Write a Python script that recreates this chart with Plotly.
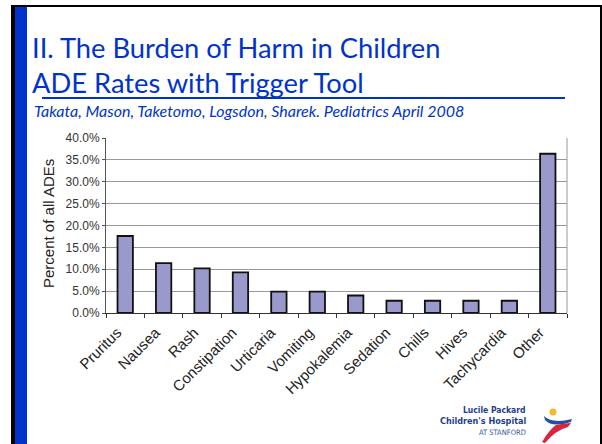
import plotly.graph_objects as go

# ---------------- data ----------------
categories = ["Pruritus", "Nausea", "Rash", "Constipation", "Urticaria", "Vomiting",
              "Hypokalemia", "Sedation", "Chills", "Hives", "Tachycardia", "Other"]
values = [17.6, 11.4, 10.2, 9.3, 4.9, 4.9, 4.0, 2.8, 2.8, 2.8, 2.8, 36.4]
y_tick_vals = [0, 5, 10, 15, 20, 25, 30, 35, 40]
y_tick_labels = ["0.0%", "5.0%", "10.0%", "15.0%", "20.0%", "25.0%", "30.0%", "35.0%", "40.0%"]

title_line1 = "II. The Burden of Harm in Children"
title_line2 = "ADE Rates with Trigger Tool"
citation = "Takata, Mason, Taketomo, Logsdon, Sharek. Pediatrics April 2008"
y_title = "Percent of all ADEs"

# ---------------- layout helpers ----------------
W, H = 602, 444
def fx(x):
    return x / W
def fy(y):
    return 1 - y / H
def path(pts_cmds):
    out = []
    for item in pts_cmds:
        if isinstance(item, str):
            out.append(item)
        else:
            out.append(f"{fx(item[0]):.5f},{fy(item[1]):.5f}")
    return " ".join(out)

BLUE = "#0033CC"
ARIAL = "Arial, 'Liberation Sans', sans-serif"
NARROW = "'Liberation Sans Narrow', 'DejaVu Sans Condensed', Arial, sans-serif"

fig = go.Figure()
fig.add_trace(go.Bar(
    x=categories, y=values, width=0.4,
    marker=dict(color="#9999CC", line=dict(color="#111111", width=1.8)),
    hoverinfo="skip",
))

shapes = []
# slide frame
shapes.append(dict(type="rect", xref="paper", yref="paper", x0=fx(11), x1=fx(15), y0=fy(444), y1=fy(5),
                   fillcolor="black", line=dict(width=0)))
shapes.append(dict(type="rect", xref="paper", yref="paper", x0=fx(11), x1=fx(602), y0=fy(7), y1=fy(5),
                   fillcolor="black", line=dict(width=0)))
shapes.append(dict(type="rect", xref="paper", yref="paper", x0=fx(600), x1=fx(602), y0=fy(444), y1=fy(5),
                   fillcolor="black", line=dict(width=0)))
shapes.append(dict(type="rect", xref="paper", yref="paper", x0=fx(15), x1=fx(27), y0=fy(444), y1=fy(7),
                   fillcolor=BLUE, line=dict(width=0)))
# title underline
shapes.append(dict(type="line", xref="paper", yref="paper", x0=fx(42), x1=fx(565), y0=fy(98), y1=fy(98),
                   line=dict(color=BLUE, width=2)))
# plot area right border
shapes.append(dict(type="line", xref="paper", yref="paper", x0=fx(567), x1=fx(567), y0=fy(313), y1=fy(138),
                   line=dict(color="#999999", width=1)))
# logo icon
shapes.append(dict(type="circle", xref="paper", yref="paper", x0=fx(549.5), x1=fx(556.5), y0=fy(415.5), y1=fy(408.5),
                   fillcolor="#F5B82E", line=dict(width=0)))
shapes.append(dict(type="path", xref="paper", yref="paper",
                   path=path(["M", (544, 416), "Q", (552, 424), (572, 419), "L", (571, 422),
                              "Q", (552, 428), (545, 420), "Z"]),
                   fillcolor="#1F4FA8", line=dict(width=0)))
shapes.append(dict(type="path", xref="paper", yref="paper",
                   path=path(["M", (556, 425), "Q", (565, 423), (571, 423), "L", (568, 427),
                              "Q", (556, 430), (545, 443), "L", (542, 442), "Q", (549, 430), (556, 425), "Z"]),
                   fillcolor="#D7263D", line=dict(width=0)))

annotations = []
title_font = dict(family="Lato, 'Open Sans', sans-serif", size=27.3, color=BLUE)
annotations.append(dict(text=title_line1, xref="paper", yref="paper", x=fx(30), y=fy(47),
                        xanchor="left", yanchor="middle", showarrow=False, font=title_font))
annotations.append(dict(text=title_line2, xref="paper", yref="paper", x=fx(30), y=fy(83),
                        xanchor="left", yanchor="middle", showarrow=False, font=title_font))
annotations.append(dict(text="<i>" + citation + "</i>", xref="paper", yref="paper", x=fx(32), y=fy(110),
                        xanchor="left", yanchor="middle", showarrow=False,
                        font=dict(family="Lato, 'Open Sans', sans-serif", size=16, color=BLUE)))
annotations.append(dict(text=y_title, xref="paper", yref="paper", x=fx(49), y=fy(224), textangle=-90,
                        xanchor="center", yanchor="middle", showarrow=False,
                        font=dict(family=ARIAL, size=15, color="#222222")))
# logo text
annotations.append(dict(text="<b>Lucile Packard</b>", xref="paper", yref="paper", x=fx(528), y=fy(410),
                        xanchor="right", yanchor="middle", showarrow=False,
                        font=dict(family=NARROW, size=8.5, color="#1F3D8C")))
annotations.append(dict(text="<b>Children's Hospital</b>", xref="paper", yref="paper", x=fx(528), y=fy(421),
                        xanchor="right", yanchor="middle", showarrow=False,
                        font=dict(family=NARROW, size=9, color="#1F3D8C")))
annotations.append(dict(text="AT STANFORD", xref="paper", yref="paper", x=fx(528), y=fy(432),
                        xanchor="right", yanchor="middle", showarrow=False,
                        font=dict(family=NARROW, size=7.5, color="#3A5A9C")))

fig.update_layout(
    width=W, height=H,
    margin=dict(l=0, r=0, t=0, b=0),
    paper_bgcolor="white", plot_bgcolor="white",
    showlegend=False,
    shapes=shapes, annotations=annotations,
    xaxis=dict(domain=[fx(106), fx(567)], type="category", showline=True, linecolor="#333333", linewidth=1,
               ticks="outside", tickson="boundaries", ticklen=4, tickcolor="#333333", tickangle=-45,
               ticklabelshift=-8, ticklabelstandoff=4,
               tickfont=dict(family=ARIAL, size=15, color="#222222"),
               showgrid=False, automargin=False, fixedrange=True),
    yaxis=dict(domain=[fy(313), fy(138)], range=[0, 40], tickvals=y_tick_vals, ticktext=y_tick_labels,
               showgrid=True, gridcolor="#999999", gridwidth=1, zeroline=False,
               showline=True, linecolor="#555555", linewidth=1, ticks="outside", ticklen=3, tickcolor="#555555",
               tickfont=dict(family=ARIAL, size=12, color="#333333"),
               automargin=False, fixedrange=True),
)

fig.write_html("out.html")
